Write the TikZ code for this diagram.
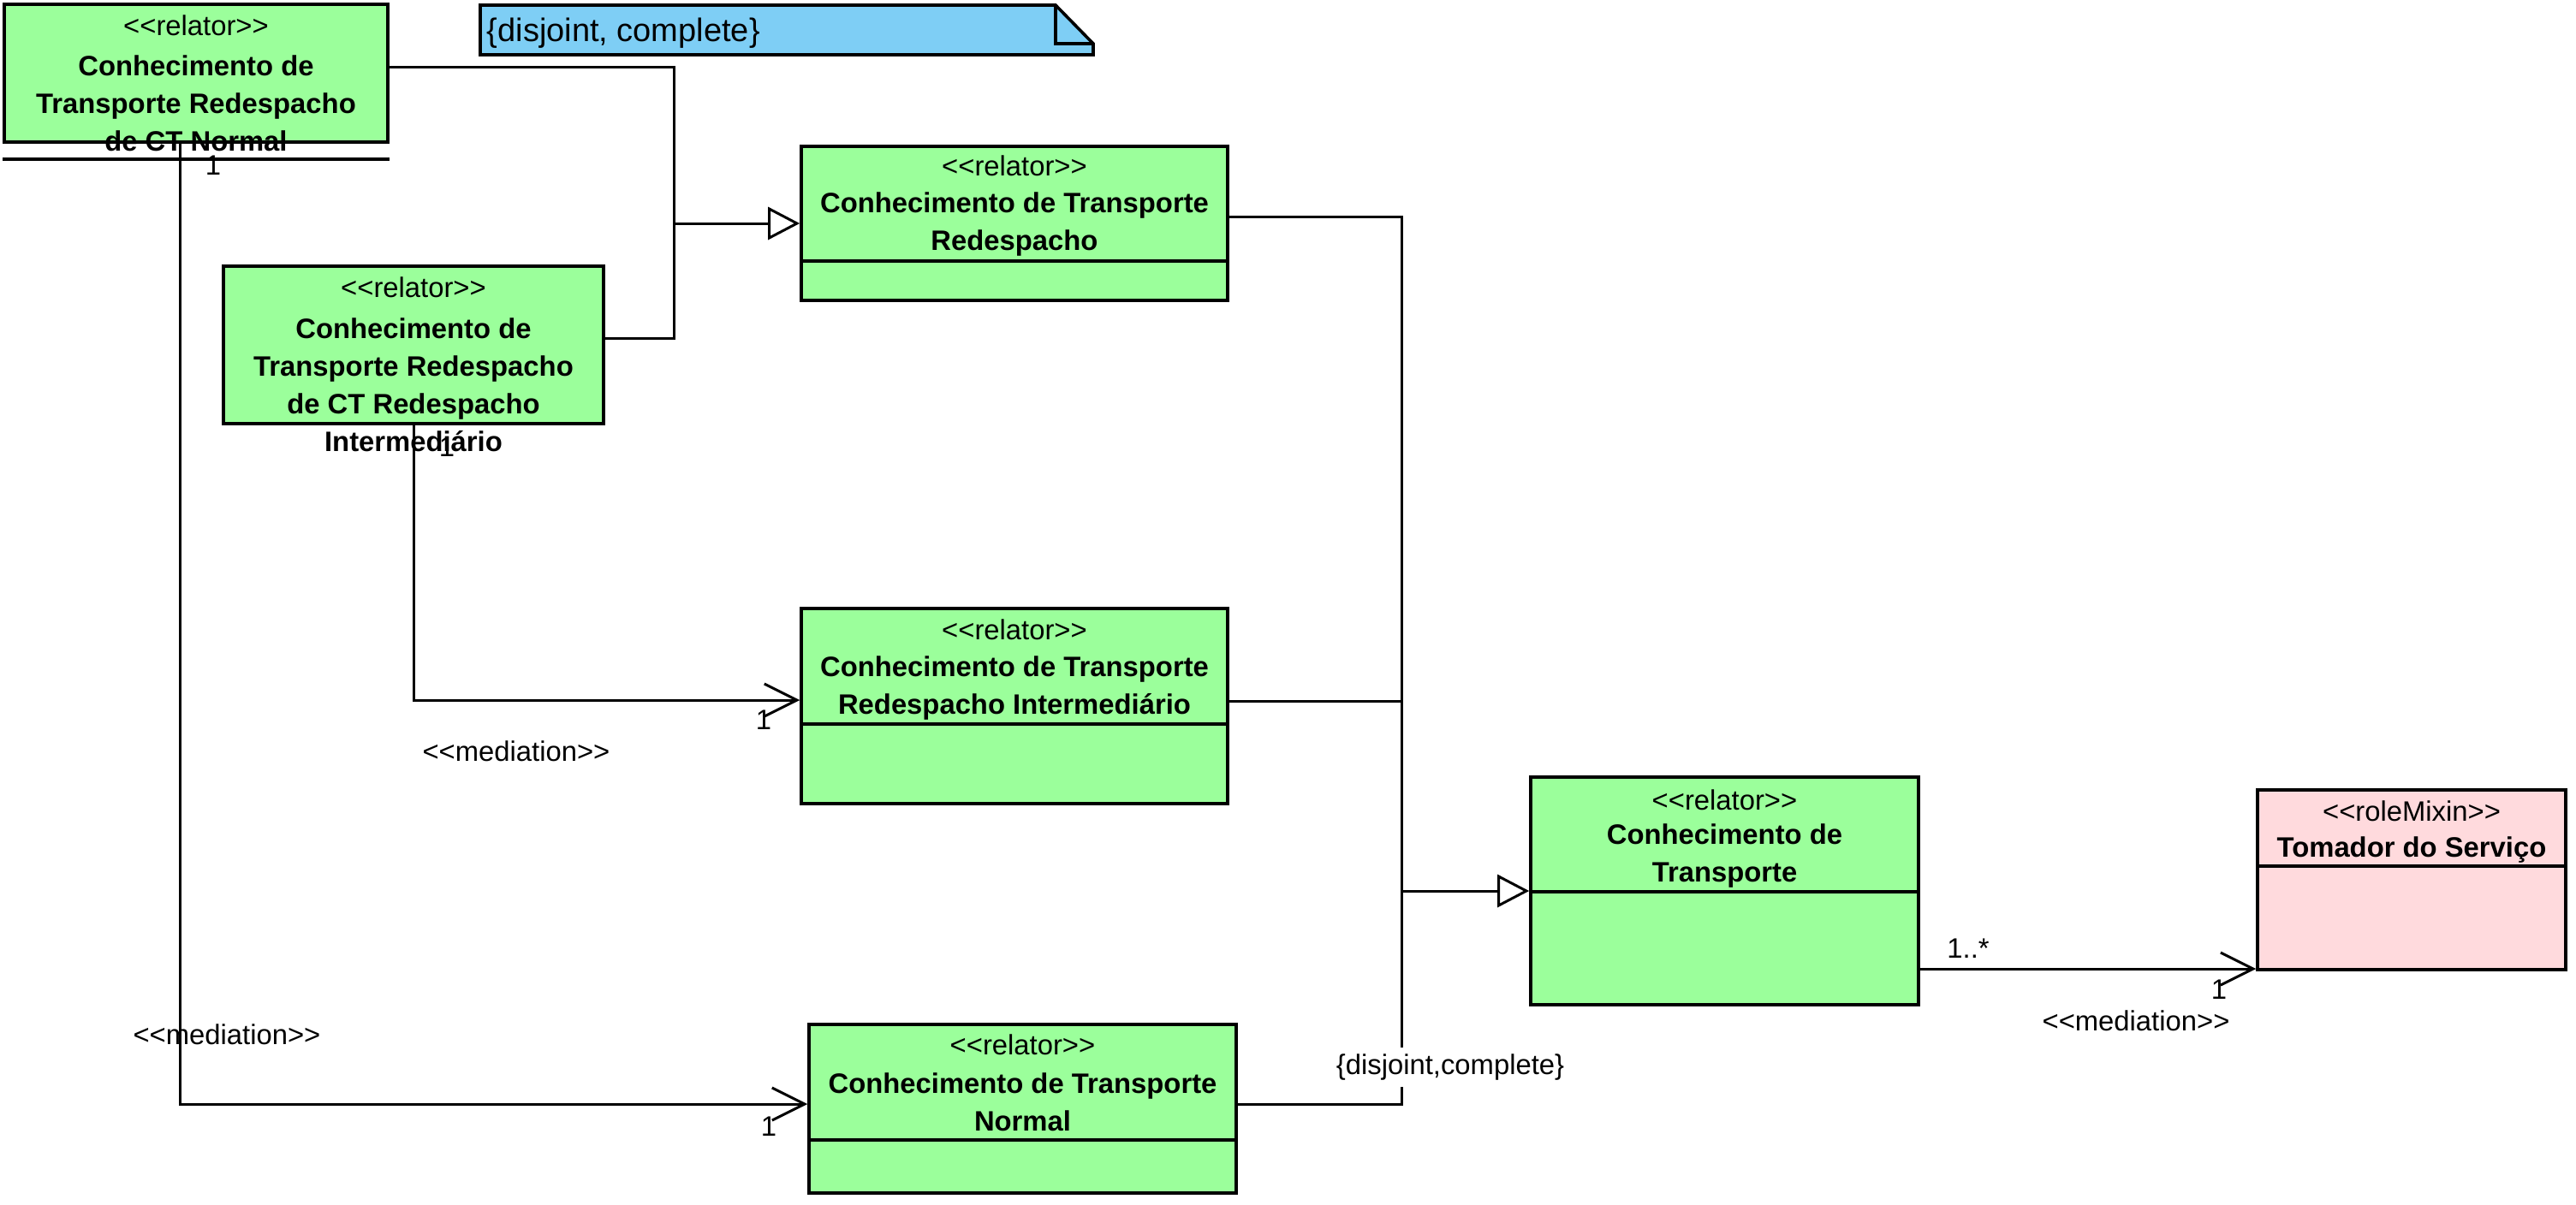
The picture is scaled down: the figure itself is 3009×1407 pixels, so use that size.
\documentclass[tikz,border=0pt]{standalone}
\usepackage{fontspec}
\setmainfont{Liberation Sans}
\usetikzlibrary{arrows.meta}

\definecolor{relgreen}{RGB}{155,255,155}
\definecolor{mixpink}{RGB}{255,218,221}
\definecolor{noteblue}{RGB}{126,206,245}

\newcommand\sttag[1]{<\kern0pt<#1>\kern0pt>}

\tikzset{
  cls/.style={draw, line width=0.9pt, inner sep=0pt},
  sep/.style={line width=0.9pt},
  stlabel/.style={font=\fontsize{8.2pt}{11pt}\selectfont, inner sep=0pt},
  clname/.style={font=\fontsize{8.2pt}{11pt}\selectfont\bfseries, align=center, inner sep=0pt},
  conn/.style={line width=0.75pt},
  gen/.style={conn, -{Triangle[open, length=9.25pt, width=9.5pt]}},
  med/.style={conn, -{Straight Barb[length=9.5pt, width=9.5pt]}},
  lbl/.style={font=\fontsize{8.2pt}{10pt}\selectfont, inner sep=0.5pt},
}

\begin{document}
\begin{tikzpicture}[x=0.25pt, y=-0.25pt]
  \useasboundingbox (0,0) rectangle (3009,1407);

  \node[cls, fill=relgreen, minimum width=112pt, minimum height=40.25pt] (ctnormalrd) at (229,85.5) {};
  \draw[sep] (ctnormalrd.south west |- 0,186) -- (ctnormalrd.south east |- 0,186);
  \node[stlabel] (ctnormalrd-st) at (229,30) {\sttag{relator}};
  \node[clname] (ctnormalrd-nm) at (229,121) {Conhecimento de\\Transporte Redespacho\\de CT Normal};

  \node[cls, fill=relgreen, minimum width=124.5pt, minimum height=45pt] (ctredesp) at (1185,261) {};
  \draw[sep] (ctredesp.west |- 0,305) -- (ctredesp.east |- 0,305);
  \node[stlabel] (ctredesp-st) at (1185,194) {\sttag{relator}};
  \node[clname] (ctredesp-nm) at (1185,262) {Conhecimento de Transporte\\Redespacho};

  \node[cls, fill=relgreen, minimum width=111pt, minimum height=46pt] (ctredrdint) at (483,403) {};
  \node[stlabel] (ctredrdint-st) at (483,336) {\sttag{relator}};
  \node[clname] (ctredrdint-nm) at (483,450) {Conhecimento de\\Transporte Redespacho\\de CT Redespacho\\Intermediário};

  \node[cls, fill=relgreen, minimum width=124.5pt, minimum height=57pt] (ctrdint) at (1185,825) {};
  \draw[sep] (ctrdint.west |- 0,846) -- (ctrdint.east |- 0,846);
  \node[stlabel] (ctrdint-st) at (1185,736) {\sttag{relator}};
  \node[clname] (ctrdint-nm) at (1185,803.5) {Conhecimento de Transporte\\Redespacho Intermediário};

  \node[cls, fill=relgreen, minimum width=124.75pt, minimum height=49.25pt] (ctnormal) at (1194.5,1295.5) {};
  \draw[sep] (ctnormal.west |- 0,1332) -- (ctnormal.east |- 0,1332);
  \node[stlabel] (ctnormal-st) at (1194.5,1221) {\sttag{relator}};
  \node[clname] (ctnormal-nm) at (1194.5,1288) {Conhecimento de Transporte\\Normal};

  \node[cls, fill=relgreen, minimum width=113.25pt, minimum height=66.5pt] (ctransp) at (2014.5,1041) {};
  \draw[sep] (ctransp.west |- 0,1042) -- (ctransp.east |- 0,1042);
  \node[stlabel] (ctransp-st) at (2014.5,935) {\sttag{relator}};
  \node[clname] (ctransp-nm) at (2014.5,1000) {Conhecimento de\\Transporte};

  \node[cls, fill=mixpink, minimum width=90pt, minimum height=52.5pt] (tomador) at (2817,1028) {};
  \draw[sep] (tomador.west |- 0,1012) -- (tomador.east |- 0,1012);
  \node[stlabel] (tomador-st) at (2817,948) {\sttag{roleMixin}};
  \node[clname] (tomador-nm) at (2817,993) {Tomador do Serviço};

  \draw[sep, fill=noteblue] (561,6) -- (1233,6) -- (1277,51) -- (1277,64) -- (561,64) -- cycle;
  \draw[sep] (1233,6) -- (1233,51) -- (1277,51);
  \node[anchor=west, font=\fontsize{9.5pt}{11pt}\selectfont, inner sep=0pt] (gsnote) at (568,39) {\{disjoint, complete\}};

  \coordinate (gsred) at (787,261);
  \draw[conn] (ctnormalrd.east |- 0,78) -| (787,395) -- (ctredrdint.east |- 0,395);
  \draw[gen] (gsred) -- (ctredesp.west);

  \coordinate (gstop) at (1637,253);
  \coordinate (gsbot) at (1637,1290);
  \coordinate (gstr) at (1637,1041);
  \draw[conn] (ctredesp.east |- gstop) -- (gstop) -- (gsbot) -- (ctnormal.east |- gsbot);
  \draw[conn] (ctrdint.east |- 0,819) -- (gstop |- 0,819);
  \draw[gen] (gstr) -- (ctransp.west);
  \node[lbl, fill=white, inner sep=2pt] (gsconstr) at (1694,1247) {\{disjoint,complete\}};

  \draw[med] (ctnormalrd.south -| 210,0) |- (ctnormal.west |- 0,1290);
  \node[lbl] (mnsrc) at (249,193) {1};
  \node[lbl] (mnname) at (265,1209) {\sttag{mediation}};
  \node[lbl] (mndst) at (898,1316) {1};

  \draw[med] (ctredrdint.south) |- (ctrdint.west |- 0,818);
  \node[lbl] (misrc) at (522,522) {1};
  \node[lbl] (miname) at (603,878) {\sttag{mediation}};
  \node[lbl] (midst) at (892,841) {1};

  \draw[med] (ctransp.east |- 0,1132) -- (tomador.west |- 0,1132);
  \node[lbl] (mtsrc) at (2299,1108) {1..*};
  \node[lbl] (mtname) at (2495,1193) {\sttag{mediation}};
  \node[lbl] (mtdst) at (2592,1156) {1};
\end{tikzpicture}
\end{document}
